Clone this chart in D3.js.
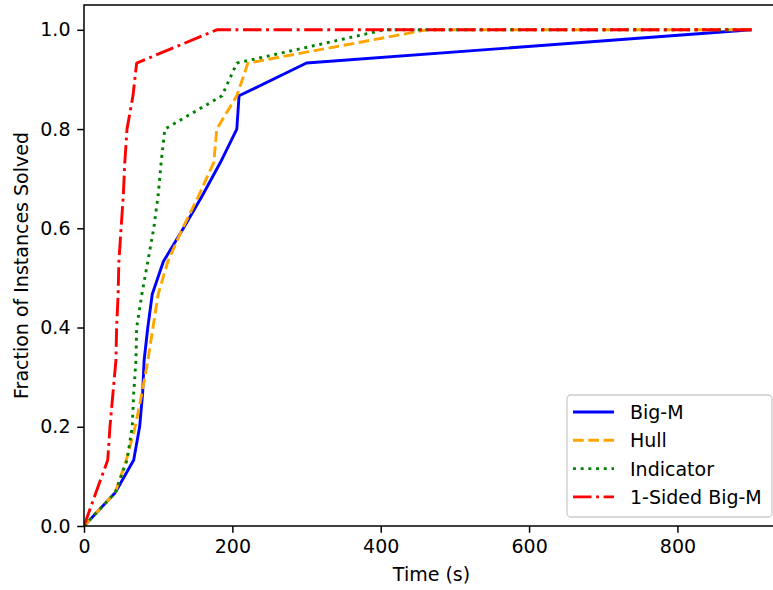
<!DOCTYPE html>
<html>
<head>
<meta charset="utf-8">
<script src="https://cdn.jsdelivr.net/npm/d3@7"></script>
<style>
  html, body { margin: 0; padding: 0; background: #fff; }
  svg { display: block; font-family: "DejaVu Sans", sans-serif; }
</style>
</head>
<body>
<svg id="chart" width="773" height="590"></svg>
<script>
// ---- data ----
const fractions = [0.0, 0.067, 0.133, 0.2, 0.267, 0.333, 0.4, 0.467, 0.533, 0.6, 0.667, 0.733, 0.8, 0.867, 0.933, 1.0, 1.0];
const bigMTimes      = [0, 42, 67, 75, 79, 81, 86, 92, 107, 134, 160, 184, 206, 209, 300, 900, 900];
const hullTimes      = [0, 42, 57, 69, 78, 86, 93, 100, 113, 133, 155, 175, 179, 206, 221, 462, 900];
const indicatorTimes = [0, 42, 58, 65, 67, 70, 71, 78, 86, 94, 100, 104, 109, 186, 206, 405, 900];
const oneSidedTimes  = [0, 16, 32, 35, 39, 43, 44, 46, 47, 50, 53, 55, 58, 66, 71, 179, 900];
const seriesNames = ["Big-M", "Hull", "Indicator", "1-Sided Big-M"];
const xTicks = [0, 200, 400, 600, 800];
const yTicks = [0.0, 0.2, 0.4, 0.6, 0.8, 1.0];

(function () {
// ---- styles ----
const styles = [
  { color: "blue",   dash: null },
  { color: "orange", dash: "10.7,4.6" },
  { color: "green",  dash: "2.9,4.8" },
  { color: "red",    dash: "18.5,4.6,2.9,4.6" }
];
const timesList = [bigMTimes, hullTimes, indicatorTimes, oneSidedTimes];

const svg = d3.select("#chart");
const pL = 84, pR = 785, pT = 5, pB = 526;
const x = d3.scaleLinear().domain([0, 945]).range([pL, pR]);
const y = d3.scaleLinear().domain([0, 1.05]).range([pB, pT]);
const fontSize = 19;

svg.append("defs").append("clipPath").attr("id", "clip")
  .append("rect").attr("x", pL).attr("y", pT).attr("width", pR - pL).attr("height", pB - pT);

const line = d3.line().x(d => x(d[0])).y(d => y(d[1]));
const plot = svg.append("g").attr("clip-path", "url(#clip)");
timesList.forEach((times, i) => {
  const pts = times.map((t, j) => [t, fractions[j]]);
  plot.append("path")
    .attr("d", line(pts))
    .attr("fill", "none")
    .attr("stroke", styles[i].color)
    .attr("stroke-width", 2.9)
    .attr("stroke-linejoin", "round")
    .attr("stroke-dasharray", styles[i].dash);
});

// axes
const xAxis = d3.axisBottom(x).tickValues(xTicks).tickFormat(d3.format("d")).tickSize(6.75).tickPadding(6.75);
const yAxis = d3.axisLeft(y).tickValues(yTicks).tickFormat(d3.format(".1f")).tickSize(6.75).tickPadding(6.75);
const gx = svg.append("g").attr("transform", `translate(0,${pB})`).call(xAxis);
const gy = svg.append("g").attr("transform", `translate(${pL},0)`).call(yAxis);
[gx, gy].forEach(g => {
  g.select(".domain").remove();
  g.selectAll(".tick line").attr("stroke", "#000").attr("stroke-width", 1.5);
  g.selectAll(".tick text").attr("fill", "#000").style("font-size", fontSize + "px")
    .style("font-family", "DejaVu Sans");
});

// spines
svg.append("rect").attr("x", pL).attr("y", pT).attr("width", pR - pL).attr("height", pB - pT)
  .attr("fill", "none").attr("stroke", "#000").attr("stroke-width", 1.5);

// labels
svg.append("text").attr("x", (pL + pR) / 2 - 3).attr("y", 581).attr("text-anchor", "middle")
  .style("font-size", fontSize + "px").text("Time (s)");
svg.append("text").attr("transform", `translate(28,${(pT + pB) / 2}) rotate(-90)`)
  .attr("text-anchor", "middle").style("font-size", fontSize + "px").text("Fraction of Instances Solved");

// legend
const lg = svg.append("g");
lg.append("rect").attr("x", 567).attr("y", 395).attr("width", 205).attr("height", 122)
  .attr("rx", 4).attr("fill", "#fff").attr("fill-opacity", 0.8)
  .attr("stroke", "#cccccc").attr("stroke-width", 1.3);
seriesNames.forEach((name, i) => {
  const yy = 412 + i * 28.3;
  lg.append("line").attr("x1", 573).attr("x2", 614).attr("y1", yy).attr("y2", yy)
    .attr("stroke", styles[i].color).attr("stroke-width", 2.9)
    .attr("stroke-dasharray", styles[i].dash);
  lg.append("text").attr("x", 630).attr("y", yy + 7).style("font-size", fontSize + "px").text(name);
});
})();
</script>
</body>
</html>
